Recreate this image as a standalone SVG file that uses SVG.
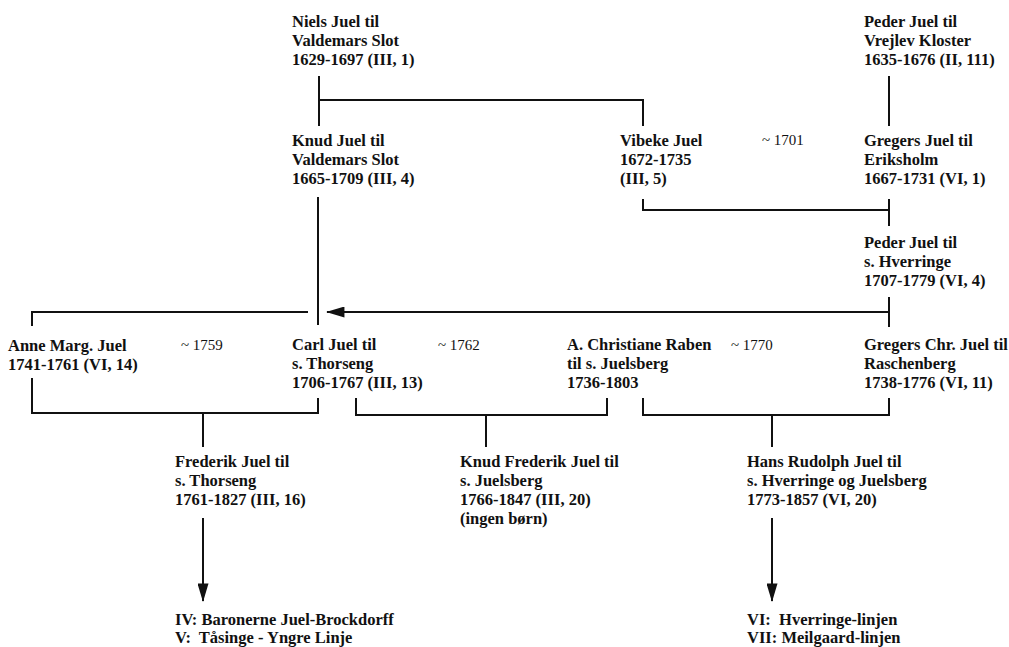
<svg xmlns="http://www.w3.org/2000/svg" width="1009" height="647" viewBox="0 0 1009 647">
<style>
text{font-family:"Liberation Serif","Times New Roman",serif;font-size:16.5px;font-weight:bold;fill:#111}
text.m{font-size:15px;font-weight:normal}
.c line,.c path{stroke:#111;stroke-width:2;fill:none}
</style>
<defs>
<marker id="ah" viewBox="0 0 20 12" refX="19" refY="6" markerWidth="20" markerHeight="11" markerUnits="userSpaceOnUse" orient="auto"><path d="M0,0 L20,6 L0,12 Z" fill="#111"/></marker>
</defs>
<rect width="1009" height="647" fill="#fff"/>
<g class="c" id="connectors">
<line x1="319" y1="76" x2="319" y2="126"/>
<path d="M319,100 H643 V126"/>
<line x1="889" y1="76" x2="889" y2="126"/>
<path d="M643,199 V210 H889"/>
<line x1="889" y1="199" x2="889" y2="226"/>
<line x1="318" y1="197" x2="318" y2="325"/>
<line x1="889" y1="297" x2="889" y2="327"/>
<line x1="889" y1="312" x2="327" y2="312" marker-end="url(#ah)"/>
<path d="M308,312 H32 V326"/>
<path d="M32,378 V413 H318 V398"/>
<line x1="203" y1="413" x2="203" y2="447"/>
<path d="M356,398 V415 H607 V398"/>
<line x1="486" y1="415" x2="486" y2="447"/>
<path d="M643,398 V415 H889 V398"/>
<line x1="772" y1="415" x2="772" y2="447"/>
<line x1="203" y1="518" x2="203" y2="601" marker-end="url(#ah)"/>
<line x1="772" y1="518" x2="772" y2="601" marker-end="url(#ah)"/>
</g>
<g id="niels"><text x="292" y="27">Niels Juel til</text><text x="292" y="46">Valdemars Slot</text><text x="292" y="65">1629-1697 (III, 1)</text></g>
<g id="peder1"><text x="864" y="27">Peder Juel til</text><text x="864" y="46">Vrejlev Kloster</text><text x="864" y="65">1635-1676 (II, 111)</text></g>
<g id="knud"><text x="292" y="146">Knud Juel til</text><text x="292" y="165">Valdemars Slot</text><text x="292" y="184">1665-1709 (III, 4)</text></g>
<g id="vibeke"><text x="620" y="146">Vibeke Juel</text><text x="620" y="165">1672-1735</text><text x="620" y="184">(III, 5)</text></g>
<g id="m1701"><text class="m" x="762" y="145">~ 1701</text></g>
<g id="gregers"><text x="864" y="146">Gregers Juel til</text><text x="864" y="165">Eriksholm</text><text x="864" y="184">1667-1731 (VI, 1)</text></g>
<g id="peder2"><text x="864" y="248">Peder Juel til</text><text x="864" y="267">s. Hverringe</text><text x="864" y="286">1707-1779 (VI, 4)</text></g>
<g id="anne"><text x="8" y="351">Anne Marg. Juel</text><text x="8" y="370">1741-1761 (VI, 14)</text></g>
<g id="m1759"><text class="m" x="181" y="350">~ 1759</text></g>
<g id="carl"><text x="292" y="350">Carl Juel til</text><text x="292" y="369">s. Thorseng</text><text x="292" y="388">1706-1767 (III, 13)</text></g>
<g id="m1762"><text class="m" x="438" y="350">~ 1762</text></g>
<g id="christiane"><text x="567" y="350">A. Christiane Raben</text><text x="567" y="369">til s. Juelsberg</text><text x="567" y="388">1736-1803</text></g>
<g id="m1770"><text class="m" x="731" y="350">~ 1770</text></g>
<g id="gregerschr"><text x="864" y="350">Gregers Chr. Juel til</text><text x="864" y="369">Raschenberg</text><text x="864" y="388">1738-1776 (VI, 11)</text></g>
<g id="frederik"><text x="175" y="467">Frederik Juel til</text><text x="175" y="486">s. Thorseng</text><text x="175" y="505">1761-1827 (III, 16)</text></g>
<g id="knudfrederik"><text x="460" y="467">Knud Frederik Juel til</text><text x="460" y="486">s. Juelsberg</text><text x="460" y="505">1766-1847 (III, 20)</text><text x="460" y="524">(ingen børn)</text></g>
<g id="hansrudolph"><text x="747" y="467">Hans Rudolph Juel til</text><text x="747" y="486">s. Hverringe og Juelsberg</text><text x="747" y="505">1773-1857 (VI, 20)</text></g>
<g id="lines-left"><text x="175" y="625">IV: Baronerne Juel-Brockdorff</text><text x="175" y="643" xml:space="preserve">V:  Tåsinge - Yngre Linje</text></g>
<g id="lines-right"><text x="747" y="625" xml:space="preserve">VI:  Hverringe-linjen</text><text x="747" y="643">VII: Meilgaard-linjen</text></g>
</svg>
